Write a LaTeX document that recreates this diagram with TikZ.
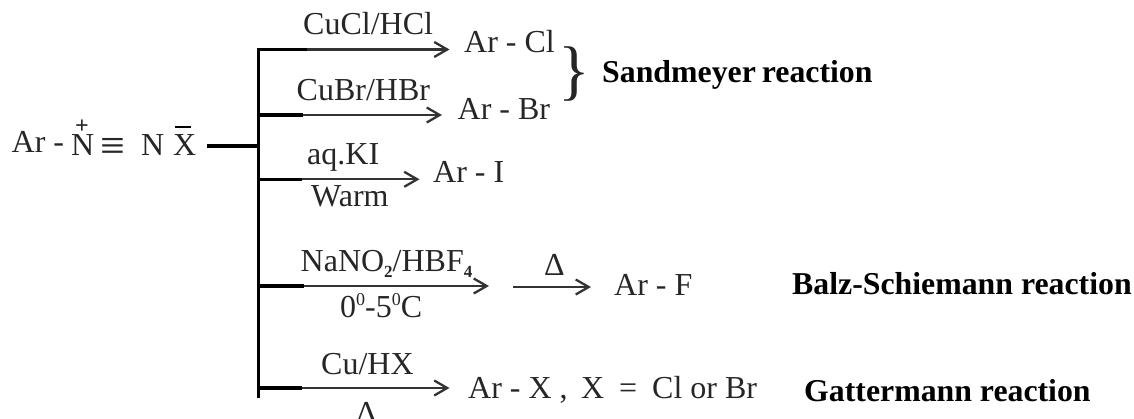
\documentclass[tikz,border=0pt]{standalone}
\usepackage{fontspec}
\usepackage{tikz}
\usetikzlibrary{arrows.meta}
\setmainfont{Liberation Serif}
\newcommand{\lowidx}[1]{\raisebox{-6pt}{\fontsize{17}{17}\selectfont\bfseries #1}}
\newcommand{\highidx}[1]{\raisebox{13pt}{\fontsize{18}{18}\selectfont #1}}
\tikzset{
	chem/.style={anchor=base west, inner sep=0pt, font=\fontsize{32}{34}\selectfont, text=black!85},
	namelabel/.style={anchor=base west, inner sep=0pt, font=\fontsize{31.8}{34}\selectfont\bfseries},
	stem/.style={line width=3.4pt},
	react/.style={line width=2.3pt, black!80, -{Straight Barb[length=13pt,width=15pt]}}
}
\begin{document}
\begin{tikzpicture}[x=1pt, y=-1pt]
	\useasboundingbox (0,0) rectangle (1134,419);
	% left formula
	\node[chem] (ar) at (11.5,153) {Ar -};
	\node[chem] (nplus) at (71,156) {N};
	\node[chem, font=\fontsize{44}{44}\selectfont, anchor=center] (trip) at (112.5,149.5) {≡};
	\node[chem] (n) at (141,156) {N};
	\node[chem] (xminus) at (173,156) {X};
	\node[chem, font=\fontsize{24}{24}\selectfont\bfseries, anchor=center] (plus) at (82,127) {+};
	\coordinate (barl) at (175,127);
	\coordinate (barr) at (190.5,127);
	\draw[line width=2.5pt] (barl) -- (barr);
	% stem
	\coordinate (start) at (207,146);
	\coordinate (mid) at (258.5,146);
	\coordinate (top) at (258.5,48);
	\coordinate (bot) at (258.5,397.5);
	\draw[stem] (start) -- (mid);
	\draw[stem] (top) -- (bot);
	% branches
	\foreach \nm/\ya/\xa/\xb in {a/49.5/307/449.5, b/115/303/442, c/179.3/302/419.5, d/286/304/489, e/388/302/449.5}{
		\coordinate (\nm0) at (258.5,\ya);
		\coordinate (\nm1) at (\xa,\ya);
		\coordinate (\nm2) at (\xb,\ya);
		\draw[stem] (\nm0) -- (\nm1);
		\draw[react] (\nm1) -- (\nm2);
	}
	% upper three
	\node[chem] (cucl) at (303,35) {CuCl/HCl};
	\node[chem] (arcl) at (464,53) {Ar - Cl};
	\node[chem] (cubr) at (296.5,100.7) {CuBr/HBr};
	\node[chem] (arbr) at (457.5,120) {Ar - Br};
	\node[chem] (aqki) at (307,165) {aq.KI};
	\node[chem] (warm) at (311,207) {Warm};
	\node[chem] (ari) at (433,183) {Ar - I};
	\node[chem, font=\fontsize{66}{66}\selectfont, anchor=center] (brace) at (574,74) {\}};
	\node[namelabel] (sand) at (602,83) {Sandmeyer\hspace{-2pt} reaction};
	% fluoride
	\node[chem] (nano) at (300.5,272) {NaNO\lowidx{2}/HBF\lowidx{4}};
	\node[chem] (cold) at (340,318) {0\highidx{0}-5\highidx{0}C};
	\node[chem] (dela) at (544,276) {Δ};
	\coordinate (fa) at (513,287);
	\coordinate (fb) at (591,287);
	\draw[react] (fa) -- (fb);
	\node[chem] (arf) at (614,296) {Ar - F};
	\node[namelabel] (balz) at (792,295) {Balz-Schiemann reaction};
	% last
	\node[chem] (cuhx) at (321,374) {Cu/HX};
	\node[chem] (delb) at (356,423) {Δ};
	\node[chem] (arx) at (468,398) {Ar - X ,};
	\node[chem] (xval) at (581,398) {X};
	\node[chem] (eqs) at (619,398) {=};
	\node[chem] (clbr) at (652,398) {Cl or Br};
	\node[namelabel] (gatt) at (804,401) {Gattermann reaction};
\end{tikzpicture}
\end{document}
